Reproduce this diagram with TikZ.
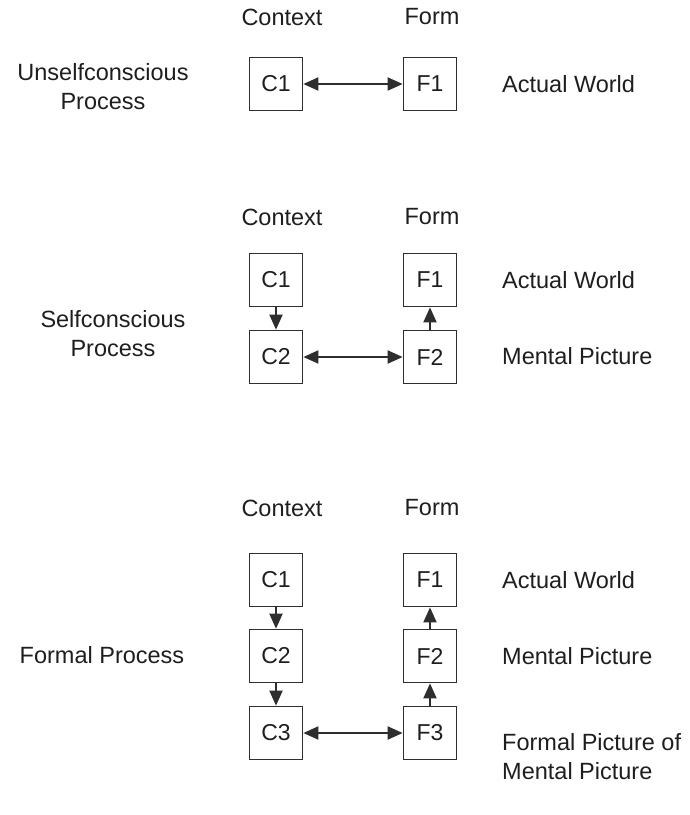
\documentclass[tikz,border=0pt]{standalone}
\usepackage{fontspec}
\setmainfont{Liberation Sans}
\usetikzlibrary{arrows.meta}
\definecolor{ink}{HTML}{1E1E1E}
\definecolor{edge}{HTML}{2E2E2E}
\begin{document}
\begin{tikzpicture}[x=1pt,y=-1pt,
  box/.style={draw=edge,line width=1.7pt,minimum size=53pt,inner sep=0pt,text=ink,font=\fontsize{23}{26}\selectfont},
  lbl/.style={font=\fontsize{23.5}{29}\selectfont,inner sep=0pt,text=ink},
  tip/.tip={Triangle[length=15pt,width=13pt]},
  conn/.style={draw=edge,line width=1.9pt,-tip},
  dconn/.style={draw=edge,line width=1.9pt,tip-tip}]
\useasboundingbox (0,0) rectangle (689,815);
% top section
\node[lbl] (ctx1) at (282,17) {Context};
\node[lbl] (frm1) at (432,17) {Form};
\node[lbl,align=center] (p1) at (103,87) {Unselfconscious\\Process};
\node[box] (a1) at (276,84) {C1};
\node[box] (b1) at (430,84) {F1};
\node[lbl,anchor=west] (w1) at (502,84) {Actual World};
\draw[dconn] (a1) -- (b1);
% middle section
\node[lbl] (ctx2) at (282,217) {Context};
\node[lbl] (frm2) at (432,217) {Form};
\node[lbl,align=center] (p2) at (113,334) {Selfconscious\\Process};
\node[box] (a2) at (276,280) {C1};
\node[box] (b2) at (430,280) {F1};
\node[box] (c2) at (276,357) {C2};
\node[box] (d2) at (430,357) {F2};
\node[lbl,anchor=west] (w2) at (502,280) {Actual World};
\node[lbl,anchor=west] (m2) at (502,356) {Mental Picture};
\draw[conn] (a2) -- (c2);
\draw[conn] (d2) -- (b2);
\draw[dconn] (c2) -- (d2);
% bottom section
\node[lbl] (ctx3) at (282,508) {Context};
\node[lbl] (frm3) at (432,508) {Form};
\node[lbl] (p3) at (102,655) {Formal Process};
\node[box] (a3) at (276,580) {C1};
\node[box] (b3) at (430,580) {F1};
\node[box] (c3) at (276,656) {C2};
\node[box] (d3) at (430,656) {F2};
\node[box] (e3) at (276,733) {C3};
\node[box] (f3) at (430,733) {F3};
\node[lbl,anchor=west] (w3) at (502,580) {Actual World};
\node[lbl,anchor=west] (m3) at (502,656) {Mental Picture};
\node[lbl,anchor=west,align=left] (fp3) at (502,757) {Formal Picture of\\Mental Picture};
\draw[conn] (a3) -- (c3);
\draw[conn] (c3) -- (e3);
\draw[conn] (f3) -- (d3);
\draw[conn] (d3) -- (b3);
\draw[dconn] (e3) -- (f3);
\end{tikzpicture}
\end{document}
